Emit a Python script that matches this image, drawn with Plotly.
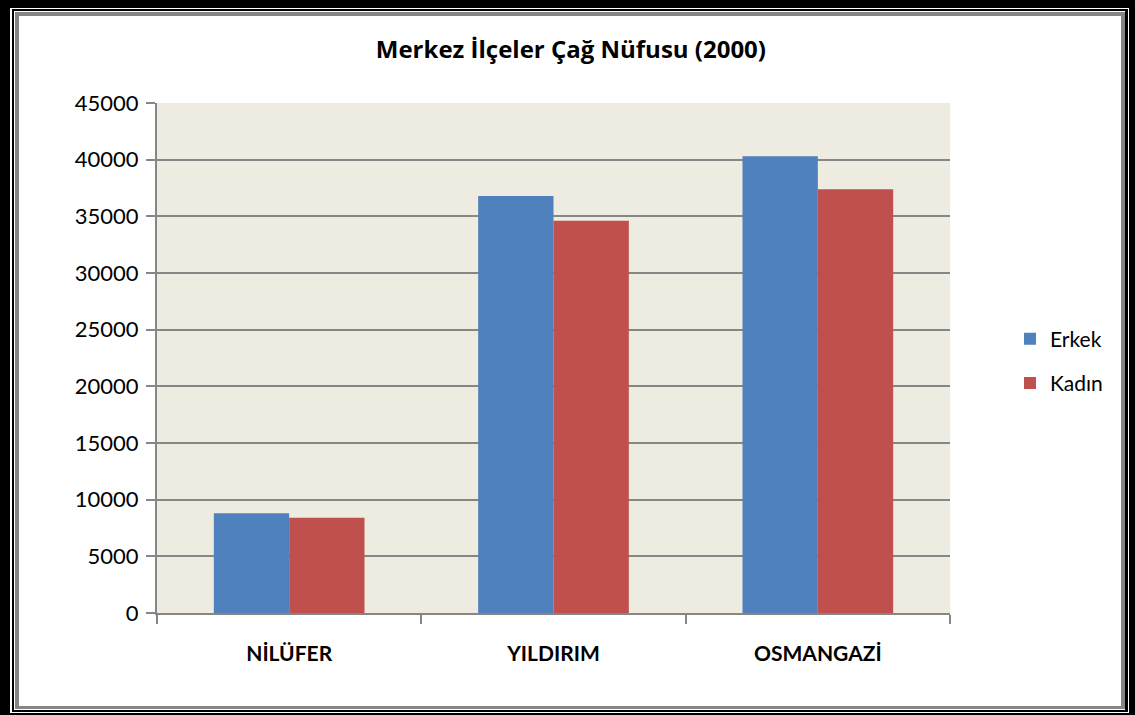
import plotly.graph_objects as go

categories = ["NİLÜFER", "YILDIRIM", "OSMANGAZİ"]
erkek = [8800, 36800, 40300]
kadin = [8400, 34600, 37400]
series_names = ["Erkek", "Kadın"]
y_ticks = [0, 5000, 10000, 15000, 20000, 25000, 30000, 35000, 40000, 45000]

W, H = 1135, 715
L, R, T, B = 157, 950, 103, 613

def px_x(p):
    return (p - L) / (R - L)

def px_y(p):
    return (B - p) / (B - T)

FONT = "Lato"

fig = go.Figure()
fig.add_trace(go.Bar(x=categories, y=erkek, name=series_names[0], marker_color="#4F81BD",
                     marker_line_width=0, legendgroup="a"))
fig.add_trace(go.Bar(x=categories, y=kadin, name=series_names[1], marker_color="#C0504D",
                     marker_line_width=0, legendgroup="b"))

shapes = []
def rect(x0, y0, x1, y1, color):
    shapes.append(dict(type="rect", xref="paper", yref="paper",
                       x0=px_x(x0), x1=px_x(x1), y0=px_y(y1), y1=px_y(y0),
                       fillcolor=color, line_width=0, layer="above"))

# outer black frame
rect(0, 0, 10, H, "black")
rect(0, 0, W, 8, "black")
rect(1129, 0, W, H, "black")
rect(0, 713, W, H, "black")
# thin black frame
rect(12, 9, 14, 712, "black")
rect(12, 9, 1128, 11, "black")
rect(1125, 9, 1128, 712, "black")
rect(12, 710, 1128, 712, "black")
# gray frame
rect(15, 12, 19, 709, "#858585")
rect(15, 12, 1125, 16, "#858585")
rect(1121, 12, 1125, 709, "#858585")
rect(15, 706, 1125, 709, "#858585")

fig.update_layout(
    width=W, height=H,
    margin=dict(l=L, r=W - R, t=T, b=H - B, autoexpand=False),
    paper_bgcolor="white",
    plot_bgcolor="#EEEBE0",
    barmode="group",
    bargap=0.43,
    bargroupgap=0,
    title=dict(text="<b>Merkez İlçeler Çağ Nüfusu (2000)</b>", x=0.503, xanchor="center",
               y=1 - 50 / H, yanchor="middle",
               font=dict(family="Open Sans", size=24, color="black")),
    font=dict(family=FONT, color="black"),
    legend=dict(x=1 + (1010 - R) / (R - L), xanchor="left", y=px_y(361), yanchor="middle",
                font=dict(family=FONT, size=21, color="black"),
                tracegroupgap=14, traceorder="grouped", itemwidth=30,
                bgcolor="rgba(0,0,0,0)"),
    shapes=shapes,
    showlegend=True,
)

fig.update_xaxes(
    type="category",
    showline=True, linecolor="#868686", linewidth=2,
    ticks="outside", tickson="boundaries", ticklen=9, tickcolor="#868686", tickwidth=2,
    tickfont=dict(family=FONT, size=21, color="black"),
    tickvals=categories, ticktext=["<b>" + c + "</b>" for c in categories],
    ticklabelstandoff=21,
    showgrid=False,
)
fig.update_yaxes(
    range=[0, 45000], tickvals=y_ticks, tickformat="d",
    showline=True, linecolor="#868686", linewidth=2,
    ticks="outside", ticklen=9, tickcolor="#868686", tickwidth=2,
    showgrid=True, gridcolor="#868686", gridwidth=1.5,
    zeroline=False,
    tickfont=dict(family=FONT, size=22, color="black"),
    ticklabelstandoff=3,
)

fig.write_html("out.html", config={"displayModeBar": False},
               post_script="document.body.style.margin='0px';document.body.style.overflow='hidden';")
